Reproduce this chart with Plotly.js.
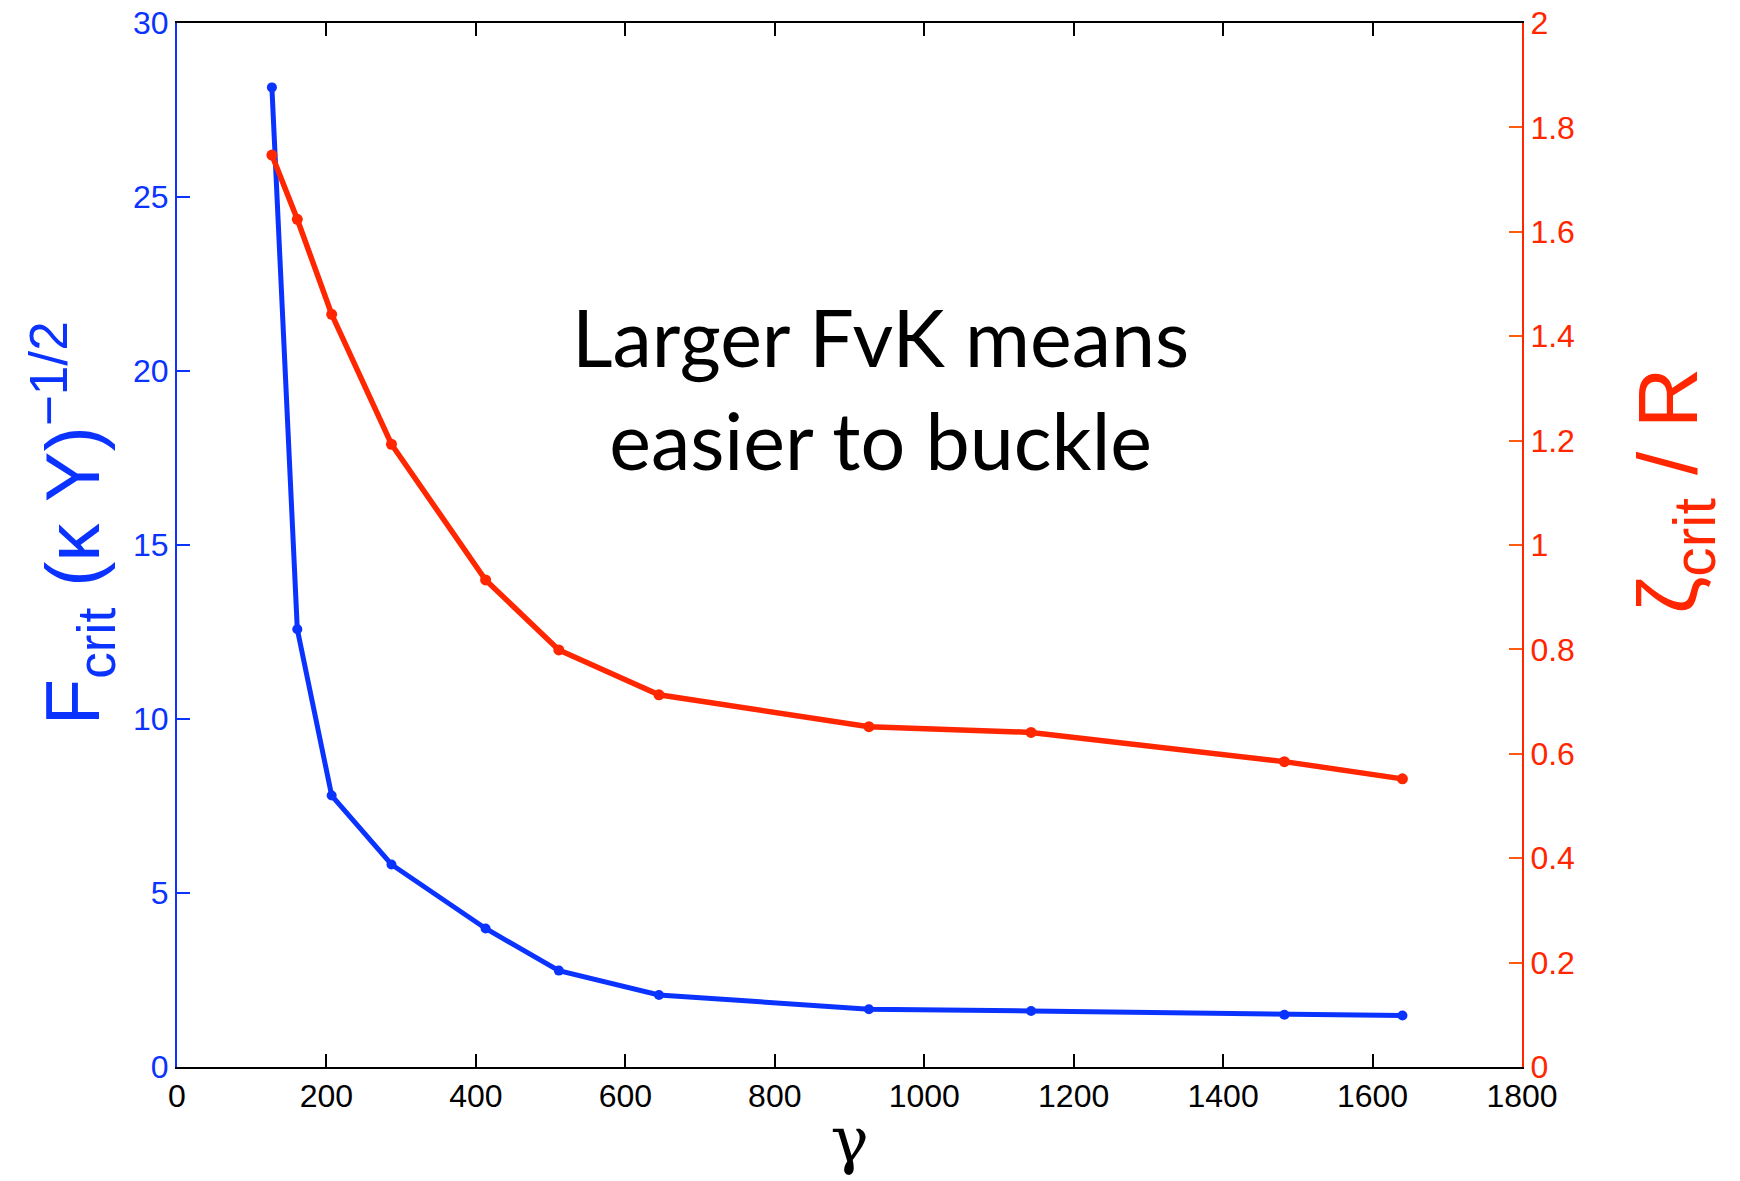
<!DOCTYPE html>
<html>
<head>
<meta charset="utf-8">
<script src="https://cdn.plot.ly/plotly-3.0.1.min.js"></script>
<style>
  html, body { margin: 0; padding: 0; background: #ffffff; }
  #chart { width: 1740px; height: 1181px; }
</style>
</head>
<body>
<div id="chart"></div>
<script>
// FvK number gamma for each simulated shell
const gamma = [127, 161, 207, 287, 413, 511, 645, 926, 1143, 1482, 1640];
// critical force, scaled by (kappa Y)^(-1/2)  (left axis)
const forceCrit = [28.15, 12.58, 7.80, 5.82, 3.98, 2.77, 2.07, 1.66, 1.61, 1.50, 1.48];
// critical indentation zeta_crit / R  (right axis)
const zetaCrit = [1.747, 1.624, 1.442, 1.193, 0.933, 0.799, 0.713, 0.652, 0.641, 0.585, 0.552];

const xTicks = [0, 200, 400, 600, 800, 1000, 1200, 1400, 1600, 1800];
const leftTicks = [0, 5, 10, 15, 20, 25, 30];
const rightTicks = [0, 0.2, 0.4, 0.6, 0.8, 1, 1.2, 1.4, 1.6, 1.8, 2];

const BLUE = '#0b33ff';
const RED = '#ff2600';
const ORANGE = '#ff5a14';
const tickFont = 'Liberation Sans, Arial, Helvetica, sans-serif';

const traces = [
  {
    x: gamma, y: forceCrit, type: 'scatter', mode: 'lines+markers',
    line: { color: BLUE, width: 5 },
    marker: { color: BLUE, size: 10 },
    yaxis: 'y', showlegend: false, hoverinfo: 'x+y'
  },
  {
    x: gamma, y: zetaCrit, type: 'scatter', mode: 'lines+markers',
    line: { color: RED, width: 5.5 },
    marker: { color: RED, size: 11 },
    yaxis: 'y2', showlegend: false, hoverinfo: 'x+y'
  }
];

const layout = {
  width: 1740, height: 1181,
  paper_bgcolor: '#ffffff', plot_bgcolor: '#ffffff',
  margin: { l: 177, r: 218, t: 23, b: 114 },
  xaxis: {
    range: [0, 1800], tickvals: xTicks, ticktext: xTicks.map(String),
    showgrid: false, zeroline: false,
    showline: true, linecolor: '#000000', linewidth: 2,
    mirror: 'ticks', ticks: 'inside', ticklen: 13, tickwidth: 2, tickcolor: '#000000',
    tickfont: { family: tickFont, size: 32, color: '#000000' },
    title: { text: 'γ', font: { family: 'DejaVu Serif, serif', size: 64, color: '#000000' }, standoff: 4 }
  },
  yaxis: {
    range: [0, 30], tickvals: leftTicks, ticktext: leftTicks.map(String),
    showgrid: false, zeroline: false,
    showline: true, linecolor: BLUE, linewidth: 2,
    ticks: 'inside', ticklen: 13, tickwidth: 2, tickcolor: BLUE,
    tickfont: { family: tickFont, size: 32, color: BLUE }
  },
  yaxis2: {
    range: [0, 2], tickvals: rightTicks, ticktext: rightTicks.map(String),
    overlaying: 'y', side: 'right',
    showgrid: false, zeroline: false,
    showline: true, linecolor: RED, linewidth: 2,
    ticks: 'inside', ticklen: 13, tickwidth: 2, tickcolor: ORANGE,
    tickfont: { family: tickFont, size: 32, color: RED }
  },
  annotations: [
    // left axis label
    {
      x: -0.078, y: 0.521, xref: 'paper', yref: 'paper',
      xanchor: 'center', yanchor: 'middle', textangle: -90,
      text: 'F<sub>crit</sub> (κ Y)<sup>−1/2</sup>', showarrow: false,
      font: { family: tickFont, size: 76, color: BLUE }
    },
    // right axis label
    {
      x: 1.113, y: 0.552, xref: 'paper', yref: 'paper',
      xanchor: 'center', yanchor: 'middle', textangle: -90,
      text: 'ζ<sub>crit</sub> / R', showarrow: false,
      font: { family: tickFont, size: 84, color: RED }
    },
    {
      x: 942, y: 19.5, xref: 'x', yref: 'y',
      text: 'Larger FvK means<br>easier to buckle',
      showarrow: false, align: 'center',
      font: { family: 'Lato, Open Sans, sans-serif', size: 79, color: '#000000' }
    }
  ]
};

Plotly.newPlot('chart', traces, layout, { displayModeBar: false, staticPlot: true });
</script>
</body>
</html>
